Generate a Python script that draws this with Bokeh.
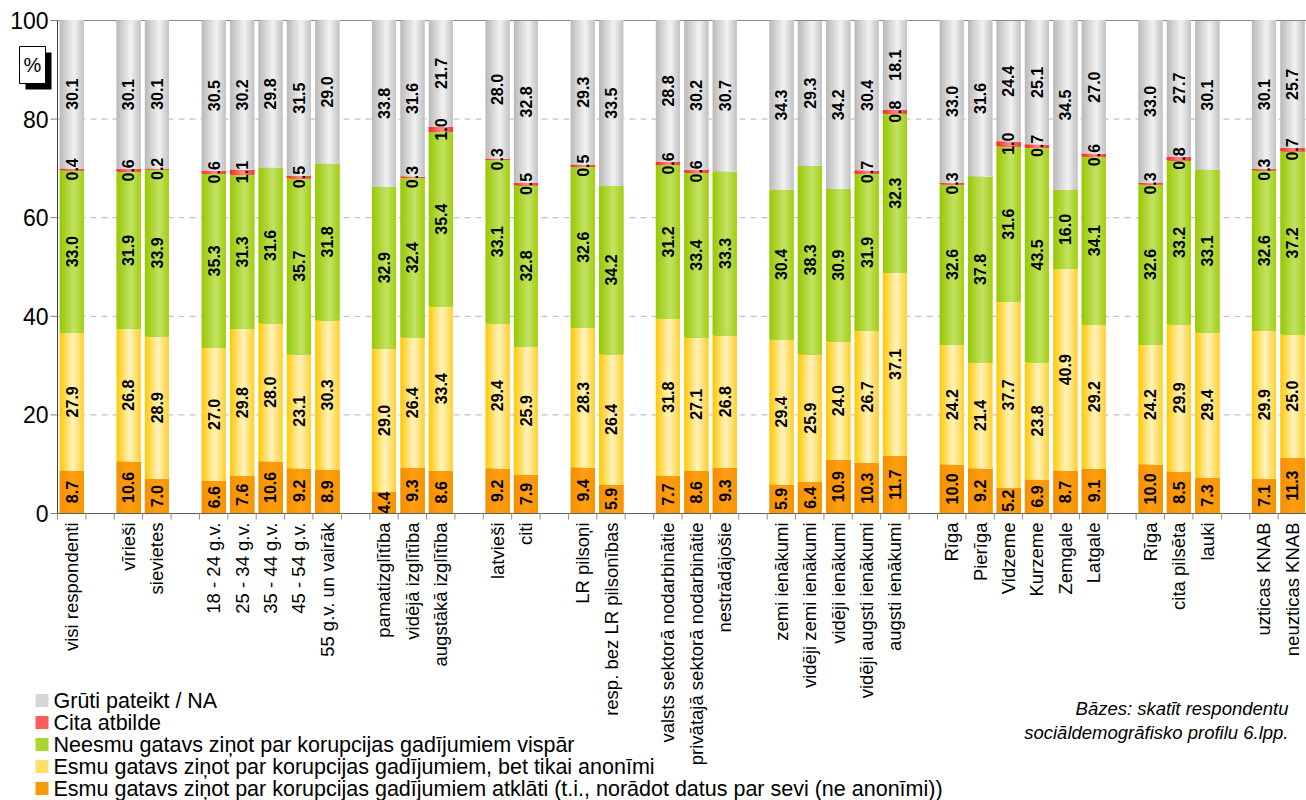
from math import pi
from bokeh.plotting import figure
from bokeh.models import ColumnDataSource, Range1d, Label
from bokeh.transform import dodge
from bokeh.core.properties import value
from bokeh.embed import file_html
from bokeh.resources import INLINE

# ---------------- data ----------------
categories = [
    "visi respondenti",
    "vīrieši", "sievietes",
    "18 - 24 g.v.", "25 - 34 g.v.", "35 - 44 g.v.", "45 - 54 g.v.", "55 g.v. un vairāk",
    "pamatizglītība", "vidējā izglītība", "augstākā izglītība",
    "latvieši", "citi",
    "LR pilsoņi", "resp. bez LR pilsonības",
    "valsts sektorā nodarbinātie", "privātajā sektorā nodarbinātie", "nestrādājošie",
    "zemi ienākumi", "vidēji zemi ienākumi", "vidēji ienākumi", "vidēji augsti ienākumi",
    "augsti ienākumi",
    "Rīga", "Pierīga", "Vidzeme", "Kurzeme", "Zemgale", "Latgale",
    "Rīga", "cita pilsēta", "lauki",
    "uzticas KNAB", "neuzticas KNAB",
]
group_sizes = [1, 2, 5, 3, 2, 2, 3, 5, 6, 3, 2]

atklati = [8.7, 10.6, 7.0, 6.6, 7.6, 10.6, 9.2, 8.9, 4.4, 9.3, 8.6, 9.2, 7.9, 9.4, 5.9,
           7.7, 8.6, 9.3, 5.9, 6.4, 10.9, 10.3, 11.7, 10.0, 9.2, 5.2, 6.9, 8.7, 9.1,
           10.0, 8.5, 7.3, 7.1, 11.3]
anonimi = [27.9, 26.8, 28.9, 27.0, 29.8, 28.0, 23.1, 30.3, 29.0, 26.4, 33.4, 29.4, 25.9,
           28.3, 26.4, 31.8, 27.1, 26.8, 29.4, 25.9, 24.0, 26.7, 37.1, 24.2, 21.4, 37.7,
           23.8, 40.9, 29.2, 24.2, 29.9, 29.4, 29.9, 25.0]
neesmu = [33.0, 31.9, 33.9, 35.3, 31.3, 31.6, 35.7, 31.8, 32.9, 32.4, 35.4, 33.1, 32.8,
          32.6, 34.2, 31.2, 33.4, 33.3, 30.4, 38.3, 30.9, 31.9, 32.3, 32.6, 37.8, 31.6,
          43.5, 16.0, 34.1, 32.6, 33.2, 33.1, 32.6, 37.2]
cita = [0.4, 0.6, 0.2, 0.6, 1.1, 0.0, 0.5, 0.0, 0.0, 0.3, 1.0, 0.3, 0.5, 0.5, 0.0,
        0.6, 0.6, 0.0, 0.0, 0.0, 0.0, 0.7, 0.8, 0.3, 0.0, 1.0, 0.7, 0.0, 0.6,
        0.3, 0.8, 0.0, 0.3, 0.7]
gruti = [30.1, 30.1, 30.1, 30.5, 30.2, 29.8, 31.5, 29.0, 33.8, 31.6, 21.7, 28.0, 32.8,
         29.3, 33.5, 28.8, 30.2, 30.7, 34.3, 29.3, 34.2, 30.4, 18.1, 33.0, 31.6, 24.4,
         25.1, 34.5, 27.0, 33.0, 27.7, 30.1, 30.1, 25.7]

series_names = [
    "Esmu gatavs ziņot par korupcijas gadījumiem atklāti (t.i., norādot datus par sevi (ne anonīmi))",
    "Esmu gatavs ziņot par korupcijas gadījumiem, bet tikai anonīmi",
    "Neesmu gatavs ziņot par korupcijas gadījumiem vispār",
    "Cita atbilde",
    "Grūti pateikt / NA",
]
y_ticks = [0, 20, 40, 60, 80, 100]
footnote = ["Bāzes: skatīt respondentu", "sociāldemogrāfisko profilu 6.lpp."]
unit_label = "%"

# ---------------- styles / geometry ----------------
FONT = "Liberation Sans"
W, H = 1306, 800
PLOT_L, PLOT_T, PLOT_B = 57, 20, 513      # pixel frame of the value area inside the canvas
gradients = [
    [(0.0, "#F39000"), (0.55, "#FF9E14"), (1.0, "#F69500")],           # orange
    [(0.0, "#FFC800"), (0.55, "#FFF3C0"), (1.0, "#FFD030")],           # light yellow
    [(0.0, "#96C800"), (0.6, "#C3E266"), (1.0, "#A2CF10")],            # green
    [(0.0, "#FF2020"), (0.55, "#FF8C8C"), (1.0, "#FF3030")],           # red
    [(0.0, "#B9B9B9"), (0.6, "#F2F2F2"), (1.0, "#C2C2C2")],            # grey
]
K = 14
BAR_W = 0.85


def hex2rgb(h):
    h = h.lstrip("#")
    return tuple(int(h[i:i + 2], 16) for i in (0, 2, 4))


def interp(stops, t):
    for (p0, c0), (p1, c1) in zip(stops[:-1], stops[1:]):
        if p0 <= t <= p1:
            f = (t - p0) / (p1 - p0)
            a, b = hex2rgb(c0), hex2rgb(c1)
            return "#%02x%02x%02x" % tuple(round(a[k] + (b[k] - a[k]) * f) for k in range(3))
    return stops[-1][1]


# slot positions (one empty slot between groups)
xs = []
slot = 0
for gi, n in enumerate(group_sizes):
    for _ in range(n):
        xs.append(slot + 0.5)
        slot += 1
    if gi < len(group_sizes) - 1:
        slot += 1
n_slots = slot
boundaries = list(range(n_slots + 1))

ymin, ymax = y_ticks[0], y_ticks[-1]
px_x = (W - PLOT_L) / n_slots
px_y = (PLOT_B - PLOT_T) / (ymax - ymin)
x_range = Range1d(-PLOT_L / px_x, n_slots)
y_range = Range1d(ymin - (H - PLOT_B) / px_y, ymax + PLOT_T / px_y)


def cx(px):   # canvas pixel -> data x (for decorations outside the value area)
    return (px - PLOT_L) / px_x


def cy(py):   # canvas pixel -> data y
    return ymin + (PLOT_B - py) / px_y


p = figure(width=W, height=H, x_range=x_range, y_range=y_range,
           output_backend="svg", toolbar_location=None,
           x_axis_location=None, y_axis_location=None,
           min_border_left=0, min_border_right=0, min_border_top=0, min_border_bottom=0)
p.outline_line_color = None
p.xgrid.visible = False
p.ygrid.visible = False
p.background_fill_color = "white"
p.border_fill_color = "white"

# horizontal grid lines (dashed) and solid top line
grid_y = y_ticks[1:-1]
p.segment(x0=[0] * len(grid_y), x1=[n_slots] * len(grid_y), y0=grid_y, y1=grid_y,
          line_color="#B4B4B4", line_dash="6 5", line_width=1)
p.segment(x0=[0], x1=[n_slots], y0=[ymax], y1=[ymax], line_color="#8C8C8C", line_width=1)

# stacked bars with horizontal gradient (drawn as overlapping slices)
series = [atklati, anonimi, neesmu, cita, gruti]
bottoms = [0.0] * len(xs)
label_sources = []
step = BAR_W / K
for si, vals in enumerate(series):
    tops = [b + v for b, v in zip(bottoms, vals)]
    src = ColumnDataSource(dict(x=xs, bottom=bottoms, top=tops))
    for i in range(K):
        col = interp(gradients[si], (i + 0.5) / K)
        p.vbar(x=dodge("x", i * step / 2, range=p.x_range), width=BAR_W - i * step,
               bottom="bottom", top="top", source=src,
               fill_color=col, line_color=None)
    lab = dict(x=[], y=[], t=[])
    for x, b, v in zip(xs, bottoms, vals):
        if v > 0:
            lab["x"].append(x)
            lab["y"].append(b + v / 2)
            lab["t"].append(f"{v:.1f}")
    label_sources.append(ColumnDataSource(lab))
    bottoms = tops

# value labels (drawn after all bars)
for src in label_sources:
    p.text(x="x", y="y", text="t", source=src, angle=pi / 2,
           text_align="center", text_baseline="middle", text_color="black",
           text_font=value(FONT), text_font_style="bold", text_font_size="16px")

# y axis (line, ticks, labels)
p.segment(x0=[0], x1=[0], y0=[ymin], y1=[ymax], line_color="#404040", line_width=1)
p.segment(x0=[0] * len(y_ticks), x1=[-7 / px_x] * len(y_ticks), y0=y_ticks, y1=y_ticks,
          line_color="#808080", line_width=1)
p.text(x=[0] * len(y_ticks), y=y_ticks, text=[str(t) for t in y_ticks], x_offset=-9,
       text_align="right", text_baseline="middle", text_color="black",
       text_font=value(FONT), text_font_size="23px")

# x axis (line, tick marks between slots, rotated category labels)
p.segment(x0=[0], x1=[n_slots], y0=[ymin], y1=[ymin], line_color="#606060", line_width=1)
p.segment(x0=boundaries, x1=boundaries, y0=[ymin] * len(boundaries),
          y1=[ymin - 6 / px_y] * len(boundaries), line_color="#8C8C8C", line_width=1)
p.text(x=xs, y=[ymin] * len(xs), text=categories, angle=pi / 2, y_offset=9,
       text_align="right", text_baseline="middle", text_color="black",
       text_font=value(FONT), text_font_size="18.5px")

# legend (top row = top series), swatch + text per row
leg_order = [4, 3, 2, 1, 0]
leg_rows_y = [cy(700 + 22 * i) for i in range(len(leg_order))]
swatch_colors = [interp(gradients[k], 0.3) for k in leg_order]
p.rect(x=[cx(41.5)] * len(leg_order), y=leg_rows_y, width=13, height=13,
       width_units="screen", height_units="screen",
       fill_color=swatch_colors, line_color=None)
p.text(x=[cx(53)] * len(leg_order), y=leg_rows_y, text=[series_names[k] for k in leg_order],
       text_align="left", text_baseline="middle", text_color="black",
       text_font=value(FONT), text_font_size="21.5px")

# footnote
for txt, yy in zip(footnote, (H - 708, H - 732)):
    p.add_layout(Label(x=1288, y=yy, x_units="screen", y_units="screen", text=txt,
                       text_align="right", text_baseline="middle",
                       text_font=FONT, text_font_style="italic", text_font_size="18.5px",
                       text_color="black"))

# "%" box with drop shadow
p.quad(left=[cx(25)], right=[cx(51)], top=[cy(52)], bottom=[cy(89)],
       fill_color="black", line_color=None)
p.quad(left=[cx(19)], right=[cx(45)], top=[cy(46)], bottom=[cy(83)],
       fill_color="white", line_color="black", line_width=1)
p.text(x=[cx(32)], y=[cy(64.5)], text=[unit_label], text_align="center",
       text_baseline="middle", text_color="black",
       text_font=value(FONT), text_font_size="20px")

open("out.html", "w").write(file_html(p, INLINE))
